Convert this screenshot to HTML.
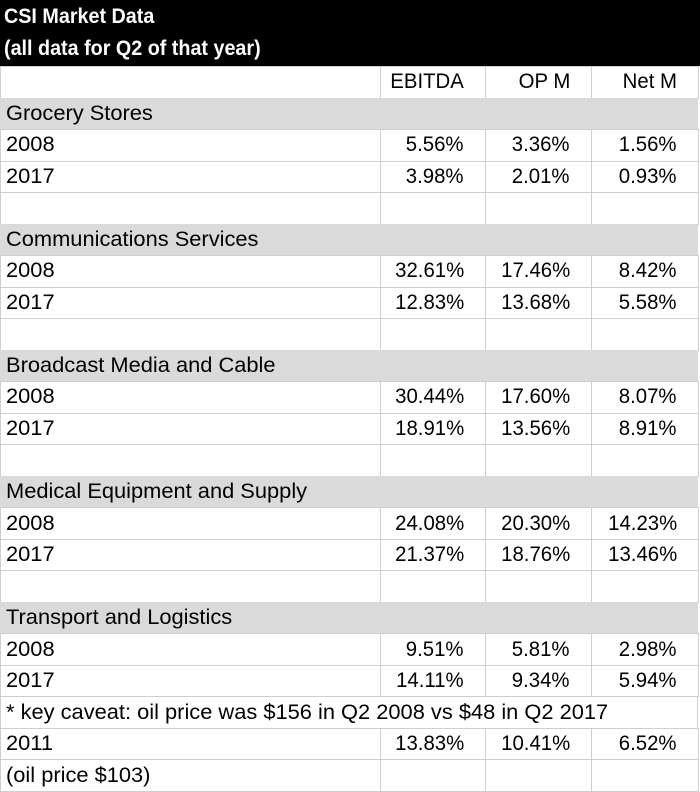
<!DOCTYPE html>
<html><head><meta charset="utf-8">
<style>
body{margin:0;width:700px;height:791px;background:#fff;overflow:hidden;font-family:"Liberation Sans",sans-serif;}
#t{position:relative;width:700px;height:791px;}
.hdr{position:absolute;left:0;top:0;width:700px;height:66px;background:#000;color:#fff;font-weight:bold;font-size:21px;}
.hdr div{position:absolute;left:4px;white-space:nowrap;transform:scaleX(0.94);transform-origin:left center;}
.cell{position:absolute;box-sizing:border-box;border:1px solid #cfcfcf;font-size:21px;color:#000;white-space:nowrap;display:flex;align-items:center;overflow:visible;}
.cell span{display:inline-block;transform:scaleX(0.97);}
.l span{transform-origin:left center;transform:scaleX(1.04);}
.r{justify-content:flex-end;padding-right:21px;}
.r span{transform-origin:right center;}
.gray{background:#dadada;border-color:#dadada;}
</style></head><body>
<div id="t">
<div class="hdr">
<div style="top:5px">CSI Market Data</div>
<div style="top:37px">(all data for Q2 of that year)</div>
</div>
</div>
<script>
const columns=["EBITDA","OP M","Net M"];
const rowLabels=["","Grocery Stores","2008","2017","","Communications Services","2008","2017","","Broadcast Media and Cable","2008","2017","","Medical Equipment and Supply","2008","2017","","Transport and Logistics","2008","2017","* key caveat:  oil price was $156 in Q2 2008 vs $48 in Q2 2017","2011","(oil price $103)"];
const rowTypes=["head","group","data","data","blank","group","data","data","blank","group","data","data","blank","group","data","data","blank","group","data","data","note","data","blank"];
const ebitda=[null,null,"5.56%","3.98%",null,null,"32.61%","12.83%",null,null,"30.44%","18.91%",null,null,"24.08%","21.37%",null,null,"9.51%","14.11%",null,"13.83%",null];
const opm=[null,null,"3.36%","2.01%",null,null,"17.46%","13.68%",null,null,"17.60%","13.56%",null,null,"20.30%","18.76%",null,null,"5.81%","9.34%",null,"10.41%",null];
const netm=[null,null,"1.56%","0.93%",null,null,"8.42%","5.58%",null,null,"8.07%","8.91%",null,null,"14.23%","13.46%",null,null,"2.98%","5.94%",null,"6.52%",null];
const colX=[0,380,485,591,698];
const t=document.getElementById('t');
const top0=66,rh=(791-66)/rowLabels.length;
function mk(x,y,w,h,cls,txt){const d=document.createElement('div');d.className='cell '+cls;d.style.left=x+'px';d.style.top=y+'px';d.style.width=w+'px';d.style.height=(h+1)+'px';if(cls.indexOf('l')>=0)d.style.paddingLeft='5px';const s=document.createElement('span');s.textContent=txt;d.appendChild(s);t.appendChild(d);return d;}
rowLabels.forEach((lab,i)=>{
 const y=top0+i*rh,type=rowTypes[i];
 if(type==='group'){const d=mk(0,y,698,rh,'l gray',lab);
  
  return;}
 if(type==='note'){const d=mk(0,y,698,rh,'l',lab);
  
  return;}
 const a=mk(0,y,colX[1]+1,rh,'l',lab);
 
 
 const vals=type==='head'?columns:[ebitda[i],opm[i],netm[i]];
 for(let c=0;c<3;c++){const d=mk(colX[c+1],y,colX[c+2]-colX[c+1]+1,rh,'r',vals[c]||'');
  
  }
});
</script>
</body></html>
